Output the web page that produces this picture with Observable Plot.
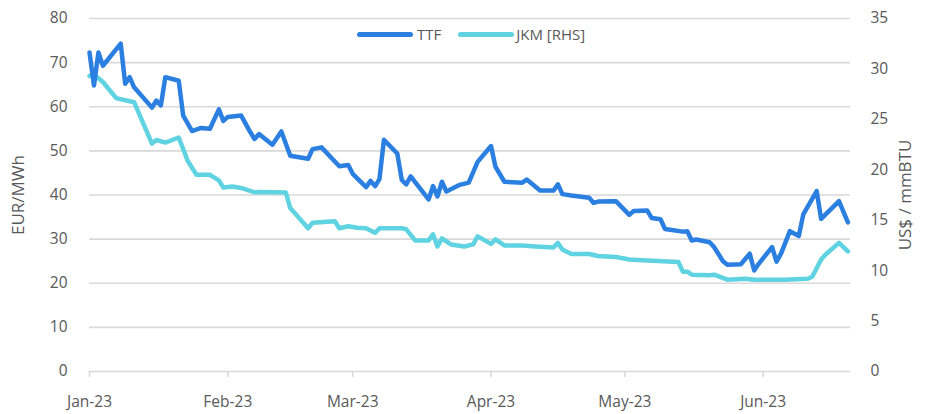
<!DOCTYPE html>
<html>
<head>
<meta charset="utf-8">
<script src="https://cdn.jsdelivr.net/npm/d3@7"></script>
<script src="https://cdn.jsdelivr.net/npm/@observablehq/plot@0.6"></script>
<style>
  html, body { margin: 0; padding: 0; background: #fff; }
  #wrap { position: relative; width: 926px; height: 414px; font-family: "Open Sans", sans-serif; }
  #legend { position: absolute; top: 24px; left: 357px; display: flex; align-items: center; font-size: 15px; color: #595959; }
  .sw { width: 56px; height: 5px; border-radius: 3px; display: inline-block; }
  .item { display: flex; align-items: center; }
</style>
</head>
<body>
<div id="wrap"></div>
<script>
const ttfDates = ["2023-01-01","2023-01-02","2023-01-03","2023-01-04","2023-01-08","2023-01-09","2023-01-10","2023-01-11","2023-01-15","2023-01-16","2023-01-17","2023-01-18","2023-01-21","2023-01-22","2023-01-24","2023-01-26","2023-01-28","2023-01-30","2023-01-31","2023-02-01","2023-02-04","2023-02-06","2023-02-07","2023-02-08","2023-02-11","2023-02-13","2023-02-15","2023-02-19","2023-02-20","2023-02-22","2023-02-26","2023-02-28","2023-03-01","2023-03-04","2023-03-05","2023-03-06","2023-03-07","2023-03-08","2023-03-11","2023-03-12","2023-03-13","2023-03-14","2023-03-18","2023-03-19","2023-03-20","2023-03-21","2023-03-22","2023-03-25","2023-03-27","2023-03-29","2023-04-01","2023-04-02","2023-04-04","2023-04-08","2023-04-09","2023-04-12","2023-04-15","2023-04-16","2023-04-17","2023-04-19","2023-04-23","2023-04-24","2023-04-25","2023-04-29","2023-05-02","2023-05-03","2023-05-06","2023-05-07","2023-05-09","2023-05-10","2023-05-14","2023-05-15","2023-05-16","2023-05-17","2023-05-20","2023-05-21","2023-05-23","2023-05-24","2023-05-27","2023-05-29","2023-05-30","2023-05-31","2023-06-03","2023-06-04","2023-06-05","2023-06-07","2023-06-09","2023-06-10","2023-06-13","2023-06-14","2023-06-18","2023-06-20"];
const ttfValues = [72.3,64.8,72.3,69.3,74.3,65.2,66.7,64.4,59.8,61.4,60.3,66.7,65.9,58.0,54.5,55.2,55.0,59.4,56.8,57.7,58.0,54.3,52.7,53.8,51.4,54.4,48.9,48.2,50.4,50.8,46.5,46.8,44.8,41.8,43.2,42.0,43.6,52.5,49.4,43.4,42.4,44.2,39.0,42.0,39.7,43.0,40.8,42.3,42.8,47.5,51.1,46.4,43.0,42.8,43.5,41.0,41.0,42.4,40.2,39.9,39.4,38.2,38.5,38.6,35.5,36.4,36.5,34.8,34.5,32.3,31.7,31.8,29.7,29.9,29.3,28.2,25.0,24.2,24.3,26.7,22.9,24.4,28.2,24.9,26.7,31.8,30.7,35.6,40.9,34.6,38.6,33.8];

const jkmDates = ["2023-01-01","2023-01-02","2023-01-04","2023-01-07","2023-01-10","2023-01-11","2023-01-15","2023-01-16","2023-01-18","2023-01-21","2023-01-23","2023-01-25","2023-01-28","2023-01-30","2023-01-31","2023-02-02","2023-02-04","2023-02-07","2023-02-08","2023-02-14","2023-02-15","2023-02-19","2023-02-20","2023-02-25","2023-02-26","2023-02-28","2023-03-02","2023-03-04","2023-03-06","2023-03-07","2023-03-12","2023-03-13","2023-03-15","2023-03-18","2023-03-19","2023-03-20","2023-03-21","2023-03-23","2023-03-26","2023-03-28","2023-03-29","2023-04-01","2023-04-02","2023-04-04","2023-04-08","2023-04-11","2023-04-15","2023-04-16","2023-04-17","2023-04-19","2023-04-23","2023-04-25","2023-04-29","2023-05-02","2023-05-06","2023-05-13","2023-05-14","2023-05-15","2023-05-16","2023-05-20","2023-05-21","2023-05-24","2023-05-28","2023-05-30","2023-06-06","2023-06-11","2023-06-12","2023-06-14","2023-06-15","2023-06-18","2023-06-20"];
const jkmValues = [29.3,29.45,28.7,27.1,26.8,26.7,22.6,22.95,22.7,23.2,20.9,19.5,19.5,18.95,18.25,18.35,18.2,17.75,17.8,17.75,16.2,14.2,14.75,14.9,14.2,14.4,14.25,14.2,13.75,14.2,14.2,14.1,13.0,13.0,13.6,12.4,13.2,12.6,12.4,12.6,13.4,12.65,13.1,12.5,12.5,12.4,12.3,12.75,12.1,11.65,11.65,11.45,11.35,11.1,11.0,10.85,9.9,9.9,9.6,9.55,9.6,9.1,9.2,9.1,9.1,9.2,9.4,11.1,11.6,12.75,11.9];

const leftTicks = [0,10,20,30,40,50,60,70,80];
const rightTicks = [0,5,10,15,20,25,30,35];
const monthTicks = ["2023-01-01","2023-02-01","2023-03-01","2023-04-01","2023-05-01","2023-06-01"];
const seriesNames = ["TTF", "JKM [RHS]"];
const leftLabel = "EUR/MWh";
const rightLabel = "US$ / mmBTU";

const ttfColor = "#2b7fe0";
const jkmColor = "#5fd3e1";
const textColor = "#595959";
const gridColor = "#d9d9d9";

// Right axis maps 0..35 US$ onto left 0..80 EUR
const k = 80 / 35;

const ttf = ttfDates.map((d, i) => ({date: new Date(d), value: ttfValues[i]}));
const jkm = jkmDates.map((d, i) => ({date: new Date(d), value: jkmValues[i]}));

const chart = Plot.plot({
  width: 926,
  height: 414,
  marginLeft: 89,
  marginRight: 76,
  marginTop: 18,
  marginBottom: 43,
  style: {fontFamily: "'Open Sans', sans-serif", fontSize: "15px", color: textColor, background: "#fff"},
  x: {type: "utc", domain: [new Date("2023-01-01"), new Date("2023-06-20T14:00")]},
  y: {domain: [0, 80]},
  marks: [
    Plot.gridY(leftTicks.slice(1), {stroke: gridColor, strokeOpacity: 1, strokeWidth: 1.6}),
    Plot.ruleY([0], {stroke: gridColor, strokeWidth: 1.6}),
    Plot.axisX(monthTicks.map(d => new Date(d)), {tickFormat: d3.utcFormat("%b-%y"), tickSize: 6, tickPadding: 18, stroke: gridColor, strokeWidth: 1.6, fill: textColor, label: null, fontSize: 15.5}),
    Plot.axisY(leftTicks, {anchor: "left", tickSize: 0, tickPadding: 22, fill: textColor, label: null, fontSize: 15.5}),
    Plot.axisY(rightTicks.map(v => v * k), {anchor: "right", tickSize: 0, tickPadding: 20, tickFormat: v => Math.round(v / k), fill: textColor, label: null, fontSize: 15.5}),
    Plot.text([leftLabel], {frameAnchor: "left", dx: -71, rotate: -90, textAnchor: "middle", fill: textColor, fontSize: 17}),
    Plot.text([rightLabel], {frameAnchor: "right", dx: 55, rotate: -90, textAnchor: "middle", fill: textColor, fontSize: 17}),
    Plot.line(jkm, {x: "date", y: d => d.value * k, stroke: jkmColor, strokeWidth: 4.5}),
    Plot.line(ttf, {x: "date", y: "value", stroke: ttfColor, strokeWidth: 4.5})
  ]
});

const wrap = document.getElementById("wrap");
wrap.appendChild(chart);
const legend = document.createElement("div");
legend.id = "legend";
legend.innerHTML =
  `<div class="item"><span class="sw" style="background:${ttfColor}"></span><span style="margin-left:4px">${seriesNames[0]}</span></div>` +
  `<div class="item" style="margin-left:17px"><span class="sw" style="background:${jkmColor}"></span><span style="margin-left:2px">${seriesNames[1]}</span></div>`;
wrap.appendChild(legend);
</script>
</body>
</html>
